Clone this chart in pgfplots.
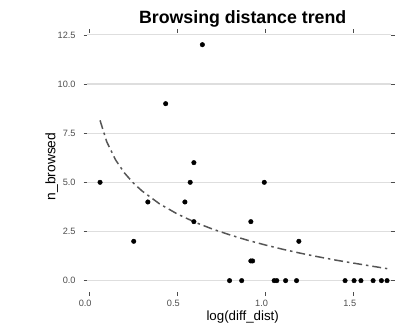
\documentclass[border=0pt]{standalone}
\usepackage{pgfplots}
\pgfplotsset{compat=1.18}
\usepackage{fontspec}
\setmainfont{Liberation Sans}
\usetikzlibrary{calc}
\definecolor{gridgray}{HTML}{DEDEDE}
\definecolor{ticktext}{HTML}{4D4D4D}
\definecolor{curvecol}{HTML}{555555}
\begin{document}
\begin{tikzpicture}
\begin{axis}[
  name=ax,
  at={(0,0)}, anchor=south west,
  scale only axis,
  width=307bp, height=262.2bp,
  xmin=-0.011, xmax=1.713,
  ymin=-0.6, ymax=12.61,
  axis line style={draw=none},
  /pgf/number format/assume math mode=true,
  xtick={0,0.5,1,1.5},
  ytick={0,2.5,5,7.5,10,12.5},
  xticklabels={0.0,0.5,1.0,1.5},
  yticklabels={0.0,2.5,5.0,7.5,10.0,12.5},
  tick align=outside,
  major tick length=3.5bp,
  tick style={draw=ticktext, line width=0.5bp},
  ymajorgrids,
  major grid style={draw=gridgray, line width=1.2bp},
  yticklabel style={font=\fontsize{9.3}{10}\selectfont, text=ticktext, anchor=east, inner sep=0pt, xshift=-8bp},
  xticklabel style={font=\fontsize{9.3}{10}\selectfont, text=ticktext, anchor=base, inner sep=0pt, yshift=-10.5bp, xshift=-4bp},
  clip=false,
]
\addplot[curvecol, line width=1.5bp, dash pattern=on 9bp off 4bp on 2.5bp off 4bp, mark=none] coordinates {
(0.062,8.15) (0.1,7.06) (0.15,6.14) (0.2,5.48) (0.25,4.97) (0.3,4.56) (0.4,3.90) (0.5,3.39) (0.6,2.97) (0.7,2.62) (0.8,2.32) (0.9,2.05) (1.0,1.81) (1.1,1.59) (1.2,1.39) (1.3,1.21) (1.4,1.04) (1.5,0.89) (1.6,0.74) (1.69,0.61)
};
\addplot[only marks, mark=*, mark size=2.3bp, black] coordinates {
(0.062,5) (0.333,4) (0.543,4) (0.573,5) (0.594,6) (0.594,3) (0.917,3) (0.993,5)
(0.642,12) (0.434,9) (0.253,2) (1.189,2) (0.917,1) (0.927,1)
(0.796,0) (0.865,0) (1.049,0) (1.064,0) (1.114,0) (1.176,0) (1.451,0) (1.502,0) (1.541,0) (1.610,0) (1.657,0) (1.689,0)
};
\end{axis}
\path[use as bounding box] ([xshift=-88bp,yshift=-33.8bp]ax.south west) rectangle ([yshift=33bp]ax.north east);
\node[anchor=base, inner sep=0pt, font=\fontsize{18}{20}\selectfont\bfseries] at ([xshift=157bp,yshift=9bp]ax.north west) {Browsing distance trend};
\node[anchor=base, inner sep=0pt, font=\fontsize{13.5}{15}\selectfont] at ([xshift=157bp,yshift=-28.3bp]ax.south west) {log(diff\_dist)};
\node[anchor=base, rotate=90, inner sep=0pt, font=\fontsize{14}{15}\selectfont] at ($([xshift=-32bp]ax.south west)!0.485!([xshift=-32bp]ax.north west)$) {n\_browsed};
\end{tikzpicture}
\end{document}
